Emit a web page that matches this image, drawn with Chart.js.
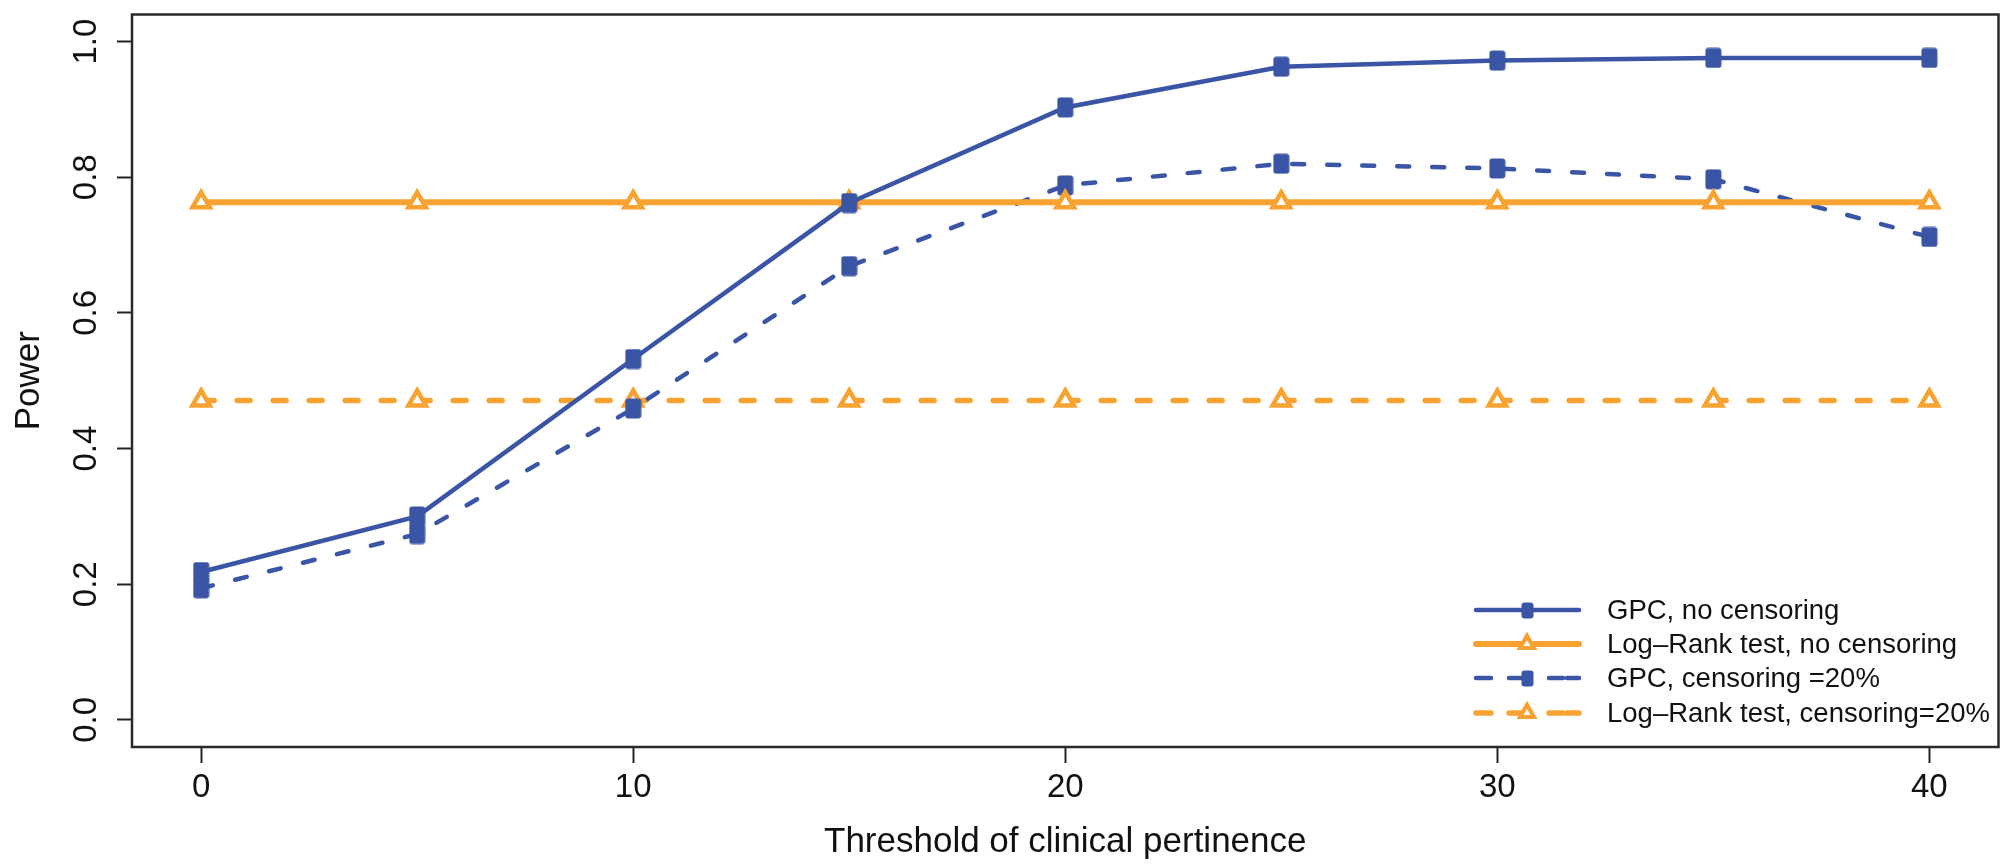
<!DOCTYPE html>
<html lang="en">
<head>
    <meta charset="UTF-8">
    <title>Power vs threshold of clinical pertinence</title>
    <style>
        html, body { margin: 0; padding: 0; background: #fff; }
        #chartBox { width: 2013px; height: 867px; }
    </style>
</head>
<body>
<div id="chartBox">
    <canvas id="myChart" width="2013" height="867"></canvas>
</div>

<script src="https://cdn.jsdelivr.net/npm/chart.js"></script>
<script>
  // data
  const thresholds = [0, 5, 10, 15, 20, 25, 30, 35, 40];
  const gpcNoCens  = [0.218, 0.300, 0.532, 0.762, 0.903, 0.963, 0.972, 0.976, 0.976];
  const lrNoCens   = [0.763, 0.763, 0.763, 0.763, 0.763, 0.763, 0.763, 0.763, 0.763];
  const gpcCens20  = [0.194, 0.274, 0.459, 0.669, 0.788, 0.820, 0.813, 0.797, 0.712];
  const lrCens20   = [0.471, 0.471, 0.471, 0.471, 0.471, 0.471, 0.471, 0.471, 0.471];
  const xTicks = [0, 10, 20, 30, 40];
  const yTicks = [0, 0.2, 0.4, 0.6, 0.8, 1.0];

  const BLUE = '#3a55a5';
  const ORANGE = '#f8a232';
  const FONT = "'Liberation Sans', Arial, sans-serif";

  // rounded rectangle used as the blue marker
  function makeSquare(w, h) {
    const c = document.createElement('canvas');
    c.width = w; c.height = h;
    const g = c.getContext('2d');
    g.fillStyle = BLUE;
    g.beginPath();
    g.roundRect(0.5, 0.5, w - 1, h - 1, 3);
    g.fill();
    return c;
  }
  const squareMark = makeSquare(17, 21);
  const squareSmall = makeSquare(13, 17);

  function pts(ys) {
    return thresholds.map((x, i) => ({ x: x, y: ys[i] }));
  }

  // box around the plotting region
  const boxPlugin = {
    id: 'box',
    afterDraw(chart) {
      const a = chart.chartArea, ctx = chart.ctx;
      ctx.save();
      ctx.strokeStyle = '#2a2a2a';
      ctx.lineWidth = 2.5;
      ctx.strokeRect(a.left, a.top, a.right - a.left, a.bottom - a.top);
      ctx.restore();
    }
  };

  // legend in the bottom right corner, drawn from the datasets' own styles
  const legendPlugin = {
    id: 'rLegend',
    afterDatasetsDraw(chart) {
      const ctx = chart.ctx;
      const x0 = 1473, x1 = 1582, xm = 1527, xt = 1607;
      const rows = [610, 644, 678, 713];
      ctx.save();
      chart.data.datasets.forEach((ds, i) => {
        const y = rows[i];
        ctx.strokeStyle = ds.borderColor;
        ctx.lineWidth = ds.borderWidth;
        ctx.lineCap = 'round';
        ctx.setLineDash([]);
        ctx.beginPath();
        if (ds.borderDash && ds.borderDash.length) {
          // dash - marker - dash
          ctx.moveTo(x0 + 3, y); ctx.lineTo(x0 + 18, y);
          ctx.moveTo(xm - 18, y); ctx.lineTo(xm - 4, y);
          ctx.moveTo(xm + 22, y); ctx.lineTo(xm + 36, y);
          ctx.moveTo(x1 - 15, y); ctx.lineTo(x1 - 3, y);
        } else {
          ctx.moveTo(x0 + 3, y); ctx.lineTo(x1 - 3, y);
        }
        ctx.stroke();
        if (ds.pointStyle === 'triangle') {
          ctx.lineWidth = 4;
          ctx.fillStyle = '#fff';
          Chart.helpers.drawPoint(ctx, { pointStyle: 'triangle', radius: 8, borderWidth: 4, rotation: 0 }, xm, y);
          ctx.fill();
          ctx.stroke();
        } else {
          ctx.drawImage(squareSmall, xm - 6, y - 8);
        }
        ctx.fillStyle = '#111';
        ctx.font = '27.5px ' + FONT;
        ctx.textBaseline = 'middle';
        ctx.textAlign = 'left';
        ctx.fillText(ds.label, xt, y + 1);
      });
      ctx.restore();
    }
  };

  const ctx = document.getElementById('myChart').getContext('2d');
  const chart = new Chart(ctx, {
    type: 'line',
    data: {
      datasets: [
        {
          label: 'GPC, no censoring',
          data: pts(gpcNoCens),
          borderColor: BLUE,
          backgroundColor: BLUE,
          borderWidth: 4.5,
          pointStyle: squareMark,
          pointRadius: 10,
          order: 1
        },
        {
          label: 'Log\u2013Rank test, no censoring',
          data: pts(lrNoCens),
          borderColor: ORANGE,
          backgroundColor: '#fff',
          borderWidth: 6,
          pointStyle: 'triangle',
          pointRadius: 10,
          pointBorderWidth: 4.5,
          pointBackgroundColor: '#fff',
          pointBorderColor: ORANGE,
          order: 2
        },
        {
          label: 'GPC, censoring =20%',
          data: pts(gpcCens20),
          borderColor: BLUE,
          backgroundColor: BLUE,
          borderWidth: 4.5,
          borderDash: [12, 23],
          borderCapStyle: 'round',
          pointStyle: squareMark,
          pointRadius: 10,
          order: 3
        },
        {
          label: 'Log\u2013Rank test, censoring=20%',
          data: pts(lrCens20),
          borderColor: ORANGE,
          backgroundColor: '#fff',
          borderWidth: 5.5,
          borderDash: [13, 23],
          borderCapStyle: 'round',
          pointStyle: 'triangle',
          pointRadius: 10,
          pointBorderWidth: 4.5,
          pointBackgroundColor: '#fff',
          pointBorderColor: ORANGE,
          order: 4
        }
      ]
    },
    options: {
      responsive: false,
      animation: false,
      devicePixelRatio: 1,
      layout: { padding: { top: 9, right: 5, left: 0, bottom: 0 } },
      plugins: {
        legend: { display: false },
        tooltip: { enabled: false }
      },
      scales: {
        x: {
          type: 'linear',
          min: -1.6,
          max: 41.6,
          afterBuildTicks: s => { s.ticks = xTicks.map(v => ({ value: v })); },
          afterFit: s => { s.height = 120; s.paddingLeft = 0; s.paddingRight = 0; },
          grid: { drawOnChartArea: false, drawTicks: true, tickLength: 16, tickColor: '#222', tickWidth: 2 },
          border: { display: false },
          ticks: {
            color: '#111',
            padding: 5,
            maxRotation: 0,
            font: { family: FONT, size: 33 },
            callback: v => String(v)
          },
          title: {
            display: true,
            text: 'Threshold of clinical pertinence',
            color: '#111',
            font: { family: FONT, size: 35 },
            padding: { top: 0, bottom: 4 }
          }
        },
        y: {
          type: 'linear',
          min: -0.04,
          max: 1.04,
          afterBuildTicks: s => { s.ticks = yTicks.map(v => ({ value: v })); },
          afterFit: s => { s.width = 132; s.paddingTop = 0; s.paddingBottom = 0; },
          grid: { drawOnChartArea: false, drawTicks: true, tickLength: 15, tickColor: '#222', tickWidth: 2 },
          border: { display: false },
          ticks: {
            color: '#111',
            padding: 7,
            minRotation: 90,
            maxRotation: 90,
            crossAlign: 'center',
            font: { family: FONT, size: 33 },
            callback: v => v.toFixed(1)
          },
          title: {
            display: true,
            text: 'Power',
            color: '#111',
            font: { family: FONT, size: 35 },
            padding: { top: 8, bottom: 0 }
          }
        }
      }
    },
    plugins: [boxPlugin, legendPlugin]
  });
</script>
</body>
</html>
